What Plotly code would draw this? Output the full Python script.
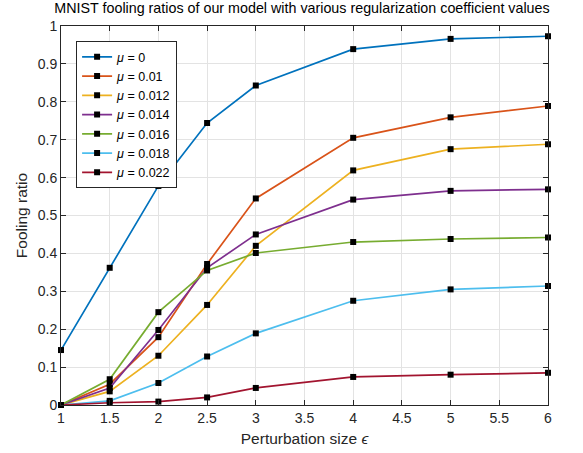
import plotly.graph_objects as go

eps = [1, 1.5, 2, 2.5, 3, 4, 5, 6]
mu_labels = ["0", "0.01", "0.012", "0.014", "0.016", "0.018", "0.022"]
mu_0 = [0.145, 0.362, 0.578, 0.744, 0.843, 0.939, 0.966, 0.973]
mu_001 = [0, 0.055, 0.179, 0.372, 0.545, 0.705, 0.759, 0.789]
mu_0012 = [0, 0.036, 0.130, 0.264, 0.420, 0.619, 0.675, 0.688]
mu_0014 = [0, 0.045, 0.198, 0.362, 0.450, 0.542, 0.565, 0.569]
mu_0016 = [0, 0.068, 0.245, 0.355, 0.401, 0.430, 0.438, 0.442]
mu_0018 = [0, 0.011, 0.058, 0.128, 0.189, 0.275, 0.305, 0.314]
mu_0022 = [0, 0.006, 0.009, 0.020, 0.045, 0.074, 0.080, 0.085]

series = [mu_0, mu_001, mu_0012, mu_0014, mu_0016, mu_0018, mu_0022]
colors = ["#0072BD", "#D95319", "#EDB120", "#7E2F8E", "#77AC30", "#4DBEEE", "#A2142F"]

FONT = "Liberation Sans, Arial, Helvetica, sans-serif"

fig = go.Figure()
for lab, ys, c in zip(mu_labels, series, colors):
    fig.add_trace(go.Scatter(
        x=eps, y=ys, mode="lines+markers", name="<i>μ</i> = " + lab,
        line=dict(color=c, width=1.7),
        marker=dict(symbol="square", size=6, color="black"),
        cliponaxis=False,
    ))

axis_common = dict(
    showgrid=True, gridcolor="#e3e3e3", gridwidth=1,
    showline=True, linecolor="#262626", linewidth=1, mirror="allticks",
    ticks="inside", ticklen=5, tickcolor="#262626",
    tickfont=dict(family=FONT, size=14, color="#262626"),
    zeroline=False, automargin=False,
)

fig.update_layout(
    width=583, height=453,
    margin=dict(l=61, r=35, t=26, b=48),
    paper_bgcolor="white", plot_bgcolor="white",
    font=dict(family=FONT, color="#262626"),
    title=dict(text="MNIST fooling ratios of our model with various regularization coefficient values",
               x=0.518, xanchor="center", y=0.9823, yanchor="middle",
               font=dict(family=FONT, size=14.3, color="black")),
    xaxis=dict(range=[1, 6], dtick=0.5, tick0=1,
               title=dict(text="Perturbation size <i>ϵ</i>", font=dict(family=FONT, size=15.5, color="#262626"), standoff=8),
               **axis_common),
    yaxis=dict(range=[0, 1], dtick=0.1, tick0=0,
               title=dict(text="Fooling ratio", font=dict(family=FONT, size=15.5, color="#262626"), standoff=6),
               **axis_common),
    legend=dict(x=0.031, y=0.96, xanchor="left", yanchor="top",
                bgcolor="white", bordercolor="#262626", borderwidth=1,
                font=dict(family=FONT, size=12.5, color="black"),
                tracegroupgap=0, itemwidth=30),
    showlegend=True,
)

fig.write_html("out.html")
